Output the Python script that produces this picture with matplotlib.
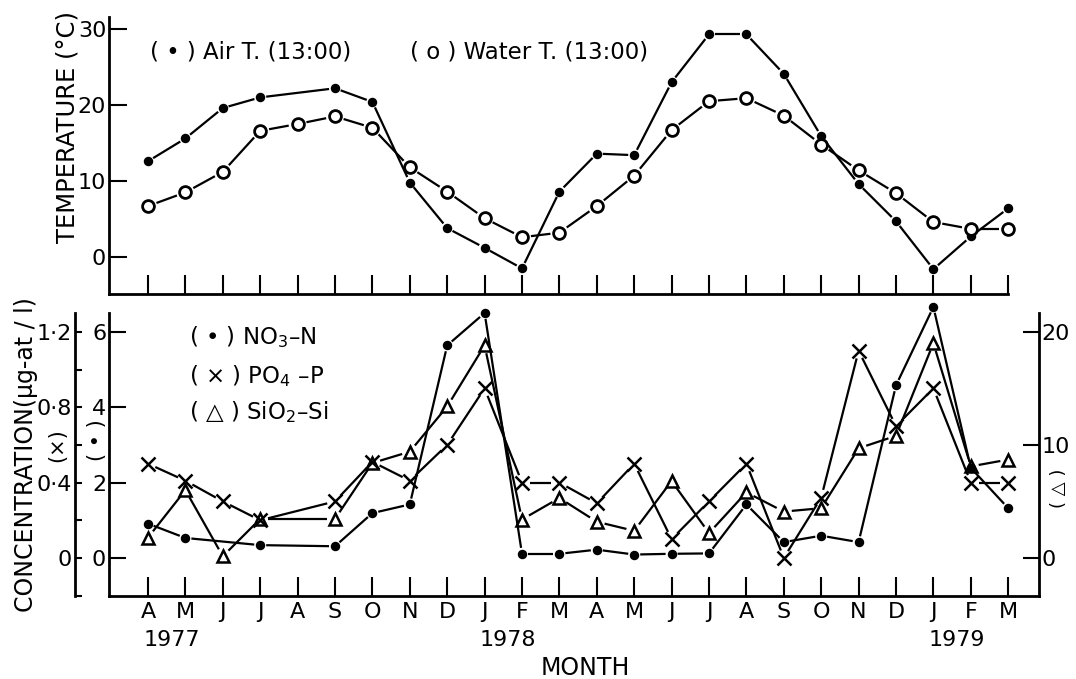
import numpy as np
import matplotlib
matplotlib.use('Agg')
import matplotlib.pyplot as plt

plt.rcParams['font.family'] = ['DejaVu Sans']

# ---------------- data ----------------
months = ['A', 'M', 'J', 'J', 'A', 'S', 'O', 'N', 'D', 'J', 'F', 'M',
          'A', 'M', 'J', 'J', 'A', 'S', 'O', 'N', 'D', 'J', 'F', 'M']
years = ['1977', '1978', '1979']
year_month_index = [0, 9, 21]

nan = np.nan
air_temp = [12.6, 15.6, 19.6, 21.0, nan, 22.2, 20.4, 9.8, 3.8, 1.2, -1.5, 8.6,
            13.6, 13.4, 23.0, 29.3, 29.3, 24.1, 15.9, 9.6, 4.7, -1.6, 2.7, 6.4]
water_temp = [6.7, 8.5, 11.2, 16.6, 17.5, 18.5, 17.0, 11.8, 8.6, 5.1, 2.6, 3.2,
              6.7, 10.7, 16.7, 20.5, 20.9, 18.6, 14.8, 11.4, 8.4, 4.6, 3.7, 3.7]
no3_n = [0.91, 0.53, nan, 0.34, nan, 0.31, 1.19, 1.42, 5.64, 6.50, 0.11, 0.11,
         0.22, 0.09, 0.11, 0.12, 1.42, 0.42, 0.59, 0.42, 4.58, 6.66, 2.39, 1.32]
po4_p = [0.50, 0.41, 0.30, 0.20, nan, 0.30, 0.51, 0.41, 0.60, 0.90, 0.40, 0.40,
         0.29, 0.50, 0.10, 0.30, 0.50, 0.00, 0.32, 1.10, 0.70, 0.90, 0.40, 0.40]
sio2_si = [1.8, 6.0, 0.15, 3.45, nan, 3.45, 8.4, 9.4, 13.4, 18.8, 3.4, 5.3,
           3.2, 2.4, 6.8, 2.2, 5.8, 4.1, 4.4, 9.7, 10.8, 19.0, 8.1, 8.7]

temp_ticks = [0, 10, 20, 30]
no3_ticks = [0, 2, 4, 6]
po4_ticks = [0, 0.4, 0.8, 1.2]
po4_labels = ['0', '0·4', '0·8', '1·2']
po4_minor = [-0.2, 0.2, 0.6, 1.0]
sio2_ticks = [0, 10, 20]

# ---------------- layout ----------------
W, H = 1076, 679
fig = plt.figure(figsize=(W / 100, H / 100), dpi=100)

def fx(px):
    return px / W

def fy(py):
    return 1 - py / H

left_px, right_px = 109, 1039
x0_idx = (left_px - 148) / 37.4
x1_idx = (right_px - 148) / 37.4
xlim = (x0_idx, x1_idx)

axTop = fig.add_axes([fx(left_px), fy(294), fx(right_px) - fx(left_px), (294 - 17) / H])
axB = fig.add_axes([fx(left_px), fy(596), fx(right_px) - fx(left_px), (596 - 313) / H])
axX = axB.twinx()
axT = axB.twinx()

x = np.arange(len(months))

axTop.set_xlim(*xlim)
axTop.set_ylim(-4.87, 31.58)
axB.set_xlim(*xlim)
axB.set_ylim(-1.01, 6.50)
axX.set_ylim(-1.01 * 0.2, 6.50 * 0.2)
axT.set_ylim(-1.01 * 10 / 3, 6.50 * 10 / 3)

LW_SP = 2.0
TICK_FS = 16
# top axes styling
for s in ['top', 'right']:
    axTop.spines[s].set_visible(False)
axTop.spines['left'].set_linewidth(LW_SP)
axTop.spines['bottom'].set_linewidth(LW_SP)
axTop.spines['bottom'].set_bounds(xlim[0], len(months) - 1)
axTop.set_xticks(x)
axTop.set_xticklabels([])
axTop.tick_params(axis='x', direction='in', length=13.5, width=1.5)
axTop.set_yticks(temp_ticks)
axTop.tick_params(axis='y', direction='in', length=13, width=1.5, labelsize=TICK_FS, pad=2)

# bottom main axes (NO3)
for s in ['top', 'right']:
    axB.spines[s].set_visible(False)
axB.spines['left'].set_linewidth(LW_SP)
axB.spines['bottom'].set_linewidth(LW_SP)
axB.set_xticks(x)
axB.set_xticklabels(months)
axB.tick_params(axis='x', direction='in', length=13.5, width=1.5, labelsize=TICK_FS, pad=4)
axB.set_yticks(no3_ticks)
axB.tick_params(axis='y', direction='in', length=12, width=1.5, labelsize=TICK_FS, pad=2)

# outer left axis (PO4)
for s in ['top', 'right', 'bottom']:
    axX.spines[s].set_visible(False)
axX.spines['left'].set_visible(True)
axX.spines['left'].set_position(('outward', (left_px - 75) * 0.72))
axX.spines['left'].set_linewidth(LW_SP)
axX.yaxis.tick_left()
axX.set_yticks(po4_ticks)
axX.set_yticklabels(po4_labels)
axX.set_yticks(po4_minor, minor=True)
axX.tick_params(axis='y', which='both', direction='in', length=5, width=1.5, labelsize=TICK_FS, pad=2)

# right axis (SiO2)
for s in ['top', 'left', 'bottom']:
    axT.spines[s].set_visible(False)
axT.spines['right'].set_linewidth(LW_SP)
axT.set_yticks(sio2_ticks)
axT.tick_params(axis='y', direction='in', length=11.5, width=1.5, labelsize=TICK_FS, pad=2)


def connect(ax, xs, ys, gap):
    xs = np.asarray(xs, float)
    ys = np.asarray(ys, float)
    m = ~np.isnan(ys)
    pts = ax.transData.transform(np.column_stack([xs[m], ys[m]]))
    inv = ax.transData.inverted()
    for p, q in zip(pts[:-1], pts[1:]):
        d = q - p
        L = np.hypot(d[0], d[1])
        if L <= 2 * gap:
            continue
        u = d / L
        seg = inv.transform(np.array([p + u * gap, q - u * gap]))
        ax.plot(seg[:, 0], seg[:, 1], color='k', lw=1.6, solid_capstyle='butt',
                zorder=2, clip_on=False)
    return xs[m], ys[m]


# top panel series
xa, ya = connect(axTop, x, air_temp, 6)
axTop.plot(xa, ya, ls='none', marker='o', ms=5.8, mfc='k', mec='k', zorder=4, clip_on=False)
xw, yw = connect(axTop, x, water_temp, 9)
axTop.plot(xw, yw, ls='none', marker='o', ms=8.5, mfc='white', mec='k', mew=2, zorder=4, clip_on=False)

# bottom panel series
xt, yt = connect(axT, x, sio2_si, 8)
axT.plot(xt, yt, ls='none', marker='^', ms=9, mfc='white', mec='k', mew=1.8, zorder=4, clip_on=False)
xp, yp = connect(axX, x, po4_p, 8)
axX.plot(xp, yp, ls='none', marker='x', ms=9.5, mec='k', mew=1.8, zorder=4, clip_on=False)
xn, yn = connect(axB, x, no3_n, 6)
axB.plot(xn, yn, ls='none', marker='o', ms=5.8, mfc='k', mec='k', zorder=4, clip_on=False)

# put NO3 axes on top of others (keeping transparent background)
axT.set_zorder(1)
axX.set_zorder(2)
axB.set_zorder(3)
axB.patch.set_visible(False)

# year labels
for yr, idx in zip(years, year_month_index):
    axB.text(idx - 0.13, (596 - 640) / (596 - 313), yr, transform=axB.get_xaxis_transform(),
             ha='left', va='center', fontsize=TICK_FS)

# axis labels
fig.text(fx(67), fy(127), 'TEMPERATURE (°C)', rotation=90, ha='center', va='center', fontsize=17.5)
fig.text(fx(26), fy(455), 'CONCENTRATION(μg-at / l)', rotation=90, ha='center', va='center', fontsize=17)
fig.text(fx(57), fy(445), '(×)', rotation=90, ha='center', va='center', fontsize=15)
fig.text(fx(97), fy(440), '( • )', rotation=90, ha='center', va='center', fontsize=15)
fig.text(fx(1059), fy(488), '( △ )', rotation=90, ha='center', va='center', fontsize=13)
fig.text(fx(585), fy(668), 'MONTH', ha='center', va='center', fontsize=17)

# legends
fig.text(fx(150), fy(52), '( • ) Air T. (13:00)', ha='left', va='center', fontsize=16.5)
fig.text(fx(410), fy(52), '( o ) Water T. (13:00)', ha='left', va='center', fontsize=16.5)
fig.text(fx(189), fy(337), '( • ) NO$_3$–N', ha='left', va='center', fontsize=16.5)
fig.text(fx(189), fy(376), '( × ) PO$_4$ –P', ha='left', va='center', fontsize=16.5)
fig.text(fx(189), fy(412), '( △ ) SiO$_2$–Si', ha='left', va='center', fontsize=16.5)

fig.savefig('out.png', dpi=100)
